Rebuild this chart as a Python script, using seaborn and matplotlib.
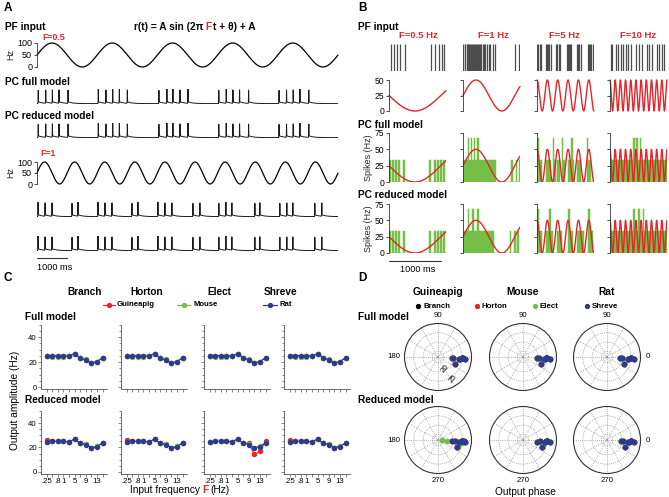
import numpy as np
import pandas as pd
import matplotlib
matplotlib.use("Agg")
import matplotlib.pyplot as plt
import seaborn as sns
from matplotlib.lines import Line2D
from matplotlib.ticker import MultipleLocator

# -------------------------
# DATA
# -------------------------
# A: PF input r(t) = A sin(2 pi F t + theta) + A over 10 s
a_freqs = [0.5, 1.0]
a_rate_amp = 50
a_duration = 10000

# PC spike times (ms)
a_full_f05 = [40, 290, 510, 730, 1030, 2035, 2290, 2515, 2735, 3000, 4050, 4315, 4515, 4750, 5015,
              6040, 6285, 6510, 6730, 7030, 8040, 8290, 8510, 8735, 9030]
a_red_f05 = [40, 290, 510, 730, 1030, 2035, 2290, 2515, 2735, 3000, 4050, 4315, 4515, 4750, 5015,
             6040, 6285, 6510, 6730, 7030, 8040, 8290, 8510, 8735, 9030]
a_full_f1 = [33, 266, 498, 1162, 1361, 2025, 2258, 2490, 3154, 3353, 4017, 4250, 4482, 5180, 5412,
             6042, 6275, 6474, 7238, 7404, 8068, 8300, 8500, 9230, 9462]
a_red_f1 = [33, 266, 498, 1162, 1361, 2025, 2258, 2490, 3154, 3353, 4017, 4250, 4482, 5180, 5412,
            6042, 6275, 6474, 7238, 7404, 8068, 8300, 8500, 9230, 9462]

# B: four input frequencies, 1.1 s windows
b_freqs = [0.5, 1, 5, 10]
b_theta = [180, 0, 90, 90]
b_rate_amp = 25
b_duration = 1100
b_titles = ["F=0.5 Hz", "F=1 Hz", "F=5 Hz", "F=10 Hz"]

pf_f05 = [33, 102, 160, 218, 309, 805, 888, 959, 1017, 1067]
pf_f1 = [8, 30, 48, 70, 88, 105, 122, 140, 160, 178, 195, 212, 232, 250, 268, 290, 310, 332, 355,
         380, 405, 430, 460, 495, 530, 570, 620, 1000, 1080]
pf_f5 = [5, 25, 50, 75, 170, 195, 215, 240, 270, 375, 395, 420, 445, 570, 590, 615, 640, 665,
         775, 795, 820, 845, 975, 995, 1020, 1045, 1080]
pf_f10 = [10, 45, 110, 150, 205, 250, 310, 350, 410, 505, 550, 610, 705, 750, 810, 905, 950,
          1010, 1050]

pc_full_f05 = [15, 75, 135, 195, 285, 785, 875, 935, 995, 1055]
pc_full_f1 = [12, 44, 75, 95, 112, 135, 155, 172, 190, 215, 232, 255, 275, 292, 318, 345, 372,
              400, 435, 462, 495, 525, 555, 585, 615, 935, 1020, 1085]
pc_full_f5 = [5, 20, 45, 80, 185, 215, 250, 305, 318, 345, 395, 425, 485, 498, 520, 605, 635,
              665, 678, 700, 800, 835, 965, 978, 1005, 1040]
pc_full_f10 = [12, 42, 72, 104, 135, 165, 196, 226, 255, 285, 316, 345, 376, 405, 436, 466, 474,
               495, 525, 532, 555, 585, 592, 615, 646, 676, 705, 736, 766, 796, 825, 856, 886,
               915, 946, 976, 1005, 1036, 1066, 1095]

pc_red_f05 = [15, 75, 135, 195, 285, 785, 875, 935, 995, 1055]
pc_red_f1 = [12, 44, 75, 95, 112, 135, 162, 190, 202, 225, 255, 275, 292, 318, 345, 372, 400,
             435, 462, 495, 525, 555, 585, 905, 1000, 1075]
pc_red_f5 = [8, 22, 50, 85, 190, 222, 245, 258, 290, 395, 430, 455, 605, 618, 640, 670, 800,
             830, 845, 870, 990, 1002, 1030, 1060]
pc_red_f10 = [12, 42, 72, 104, 135, 165, 196, 226, 255, 285, 316, 345, 376, 405, 436, 455, 462,
              495, 525, 555, 562, 585, 615, 646, 652, 676, 705, 736, 766, 796, 825, 856, 886,
              915, 946, 976, 1005, 1036, 1066, 1095]

# C / D: output amplitude (Hz) and phase (deg) per input frequency
input_freqs = [0.25, 0.5, 0.8, 1, 3, 5, 7, 9, 11, 13, 15]
freq_ticklabels = [".25", "", ".8", "1", "", "5", "", "9", "", "13", ""]
methods = ["Branch", "Horton", "Elect", "Shreve"]
species = ["Guineapig", "Mouse", "Rat"]

amp_guinea_full = [25.2, 25.0, 25.0, 25.0, 24.9, 26.7, 23.4, 21.8, 19.3, 20.2, 23.6]
amp_mouse_full = [24.8, 24.4, 24.3, 24.3, 24.8, 26.6, 23.6, 22.6, 19.4, 20.4, 23.4]
amp_rat_full = [24.8, 25.0, 25.0, 25.0, 24.8, 26.8, 23.5, 21.7, 19.2, 20.3, 23.5]
amp_guinea_red = [26.0, 25.0, 25.0, 25.0, 24.8, 26.8, 23.5, 22.6, 19.6, 20.9, 23.9]
amp_mouse_red = [24.5, 25.0, 25.0, 25.0, 24.8, 26.6, 23.6, 22.9, 19.8, 20.9, 23.7]
amp_rat_red = [24.8, 25.0, 25.0, 25.0, 24.8, 26.8, 23.5, 22.4, 19.7, 20.8, 23.8]
amp_guinea_red_elect = [24.6, 25.0, 25.0, 25.0, 24.9, 26.6, 23.8, 23.5, 14.3, 16.8, 25.0]

phase_guinea_full = [-3, -3, -2, -2, -3, -4, -5, -22, -6, -4, -5]
phase_mouse_full = [-3, -3, -3, -2, -3, -4, -5, -21, -6, -4, -5]
phase_rat_full = [-3, -3, -2, -2, -3, -4, -5, -22, -6, -4, -5]
phase_guinea_red = [-3, -2, -2, -2, -3, -4, -5, -20, -6, -4, -6]
phase_mouse_red = [-3, -3, -2, -2, -3, -4, -5, -21, -6, -4, -5]
phase_rat_red = [-3, -3, -2, -2, -3, -4, -5, -21, -6, -4, -5]

# -------------------------
# STYLE / LAYOUT HELPERS
# -------------------------
RED = "#e3262b"
GREEN = "#74bf45"
BLUE = "#2c3b8e"
DARK = "#333333"

sns.set_theme(style="ticks")
plt.rcParams["font.family"] = ["Liberation Sans", "DejaVu Sans"]

W, H = 669, 497
fig = plt.figure(figsize=(W / 100, H / 100), dpi=100)


def box(x0, y0, x1, y1):
    return [x0 / W, 1 - y1 / H, (x1 - x0) / W, (y1 - y0) / H]


def label(x, y, s, size=7.3, weight="bold", color="black", ha="left", **kw):
    fig.text(x / W, 1 - y / H, s, fontsize=size, fontweight=weight, color=color,
             ha=ha, va="center", **kw)


def pf_rate(t, f, amp, theta):
    return amp * np.sin(2 * np.pi * f * t / 1000 + np.deg2rad(theta)) + amp


def left_axis(ax, ticks, show_labels, size=6.2):
    for side in ["top", "right", "bottom"]:
        ax.spines[side].set_visible(False)
    ax.spines["left"].set_linewidth(0.6)
    ax.spines["left"].set_color(DARK)
    ax.set_xticks([])
    ax.set_yticks(ticks)
    if not show_labels:
        ax.set_yticklabels([])
    ax.tick_params(axis="y", labelsize=size, length=2.5, width=0.6, pad=1, colors=DARK,
                   labelcolor="black")
    ax.set_xlabel("")
    ax.set_ylabel("")
    ax.patch.set_alpha(0)


# -------------------------
# PANEL A
# -------------------------
t_a = np.arange(0, a_duration + 1, 2.0)


def draw_trace(ax, spikes):
    v = np.zeros_like(t_a)
    tail = np.zeros_like(t_a)
    for s in spikes:
        v += np.exp(-((t_a - s) / 5.0) ** 2)
        after = t_a > s
        tail[after] = np.maximum(tail[after], 0.14 * np.exp(-(t_a[after] - s) / 150.0))
    sns.lineplot(x=t_a, y=v + tail, ax=ax, color="#1a1a1a", lw=0.7, estimator=None)
    ax.set_xlim(0, a_duration)
    ax.set_ylim(-0.03, 1.1)
    ax.axis("off")


label(4, 8, "A", size=8.5)
label(5, 27, "PF input")
label(203, 27, "r(t) = A sin (2\u03c0")
fig.texts[-1].set_ha("right")
label(208, 27, "F", color=RED, ha="center")
label(213, 27, "t + \u03b8) + A")

sine_rows = [(43, 67), (162, 184)]
trace_rows = [[(89, 104), (123, 138)], [(202, 217), (236, 251)]]
trace_data = [[a_full_f05, a_red_f05], [a_full_f1, a_red_f1]]
for i, f in enumerate(a_freqs):
    y0, y1 = sine_rows[i]
    ax = fig.add_axes(box(37, y0, 338, y1))
    sns.lineplot(x=t_a, y=pf_rate(t_a, f, a_rate_amp, 0), ax=ax, color="black", lw=0.9,
                 estimator=None)
    for ln in ax.lines:
        ln.set_clip_on(False)
    ax.set_xlim(0, a_duration)
    ax.set_ylim(0, 100)
    left_axis(ax, [0, 50, 100], True, size=6.5)
    ax.set_ylabel("Hz", fontsize=6.5, labelpad=1)
    for (ty0, ty1), spikes in zip(trace_rows[i], trace_data[i]):
        tax = fig.add_axes(box(37, ty0, 338, ty1))
        draw_trace(tax, spikes)

label(42, 38, "F=0.5", size=6.3, color=RED)
label(40, 154, "F=1", size=6.3, color=RED)
label(5, 82, "PC full model")
label(5, 116, "PC reduced model")

sax = fig.add_axes(box(37, 256, 338, 260))
sns.lineplot(x=[0, 1000], y=[0, 0], ax=sax, color=DARK, lw=0.8)
sax.set_xlim(0, a_duration)
sax.axis("off")
label(37, 268, "1000 ms", size=6.6, weight="normal")

# -------------------------
# PANEL B
# -------------------------
t_b = np.arange(0, b_duration + 1, 1.0)
b_cols = [389, 463, 537, 610]
b_pf = [pf_f05, pf_f1, pf_f5, pf_f10]
b_full = [pc_full_f05, pc_full_f1, pc_full_f5, pc_full_f10]
b_red = [pc_red_f05, pc_red_f1, pc_red_f5, pc_red_f10]

label(358, 8, "B", size=8.5)
label(358, 27, "PF input")
label(358, 125, "PC full model")
label(358, 195, "PC reduced model")
b_title_x = [418, 493, 564, 638]

for j, f in enumerate(b_freqs):
    x0 = b_cols[j]
    x1 = x0 + 57
    label(b_title_x[j], 36, b_titles[j], size=6.8, color=RED, ha="center")

    rax = fig.add_axes(box(x0, 44, x1, 71))
    rax.vlines(b_pf[j], 0, 1, color="#4d4d4d", lw=0.9)
    rax.set_xlim(0, b_duration)
    rax.set_ylim(0, 1)
    rax.axis("off")

    iax = fig.add_axes(box(x0, 80, x1, 111))
    sns.lineplot(x=t_b, y=pf_rate(t_b, f, b_rate_amp, b_theta[j]), ax=iax, color=RED, lw=1.0,
                 estimator=None)
    for ln in iax.lines:
        ln.set_clip_on(False)
    iax.set_xlim(0, b_duration)
    iax.set_ylim(0, 50)
    left_axis(iax, [0, 25, 50], j == 0)

    for (y0, y1), spikes in zip([(133, 182), (204, 253)], [b_full[j], b_red[j]]):
        hax = fig.add_axes(box(x0, y0, x1, y1))
        spk = pd.DataFrame({"t": spikes, "rate": 1000 / 30})
        sns.histplot(data=spk, x="t", weights="rate", binwidth=30, binrange=(0, 1110), ax=hax,
                     color=GREEN, alpha=1, linewidth=0.35, edgecolor=GREEN)
        sns.lineplot(x=t_b, y=pf_rate(t_b, f, b_rate_amp, b_theta[j]), ax=hax, color=RED,
                     lw=1.0, estimator=None)
        hax.set_xlim(0, b_duration)
        hax.set_ylim(0, 75)
        left_axis(hax, [0, 25, 50, 75], j == 0)
        if j == 0:
            hax.set_ylabel("Spikes (Hz)", fontsize=6.5, labelpad=1)

bax = fig.add_axes(box(389, 259, 446, 263))
sns.lineplot(x=[0, 1000], y=[0, 0], ax=bax, color=DARK, lw=0.8)
bax.set_xlim(0, b_duration)
bax.axis("off")
label(418, 269, "1000 ms", size=6.6, weight="normal", ha="center")

# -------------------------
# PANEL C
# -------------------------
pos = np.arange(len(input_freqs))
label(4, 278, "C", size=8.5)
for x, name in zip([85, 147, 219, 281], methods):
    label(x, 292, name, size=7.2, ha="center")

for (lx0, lx1, tx), c, name in zip([(103, 115, 117), (177, 190, 193), (263, 277, 280)],
                                   [RED, GREEN, BLUE], species):
    fig.add_artist(Line2D([lx0 / W, (lx0 + lx1) / 2 / W, lx1 / W], [1 - 305 / H] * 3, color=c,
                          lw=0.9, marker="o", markersize=2.8, markevery=[1]))
    label(tx, 305, name, size=5.6)

label(25, 317, "Full model")
label(25, 400, "Reduced model")

c_cols = [41, 121, 204, 284]
c_rows = [(324.5, 389), (410.8, 473.8)]
full_amps = [amp_guinea_full, amp_mouse_full, amp_rat_full]
red_amps = [amp_guinea_red, amp_mouse_red, amp_rat_red]
for r, (y0, y1) in enumerate(c_rows):
    for m, x0 in enumerate(c_cols):
        ax = fig.add_axes(box(x0, y0, x0 + 66, y1))
        amps = full_amps if r == 0 else list(red_amps)
        if r == 1 and methods[m] == "Elect":
            amps = [amp_guinea_red_elect] + amps[1:]
        for vals, c in zip(amps, [RED, GREEN, BLUE]):
            sns.lineplot(x=pos, y=vals, ax=ax, color=c, lw=0.8, marker="o", markersize=3.9,
                         markeredgewidth=0, estimator=None)
        ax.set_xlim(-1, 10.8)
        ax.set_ylim(-1.5, 50)
        sns.despine(ax=ax)
        for side in ["left", "bottom"]:
            ax.spines[side].set_linewidth(0.6)
            ax.spines[side].set_color("#555555")
        ax.set_yticks([0, 20, 40])
        ax.yaxis.set_minor_locator(MultipleLocator(5))
        ax.set_xticks(pos)
        ax.set_xticklabels(freq_ticklabels if r == 1 else [""] * len(pos))
        if m != 0:
            ax.set_yticklabels([])
        ax.tick_params(which="both", labelsize=5.6, length=2, width=0.5, pad=1, colors="#555555",
                       labelcolor="black")
        ax.tick_params(which="minor", length=1.5)
        ax.set_xlabel("")
        ax.set_ylabel("")
        ax.patch.set_alpha(0)

label(15, 400, "Output amplitude (Hz)", size=7.3, weight="normal", rotation=90, ha="center")
label(200, 490, "Input frequency", size=7.3, weight="normal")
fig.texts[-1].set_ha("right")
label(205, 490, "F", size=7.5, color=RED, ha="center")
label(210, 490, "(Hz)", size=7.3, weight="normal")

# -------------------------
# PANEL D
# -------------------------
label(358, 278, "D", size=8.5)
d_cx = [438, 523, 607]
for cx, name in zip(d_cx, species):
    label(cx, 292, name, size=7.4, ha="center")

for (dx, tx), c, name in zip([(418, 423), (477, 482), (535, 540), (587, 592)],
                             ["black", RED, GREEN, BLUE], methods):
    fig.add_artist(Line2D([dx / W], [1 - 306 / H], color=c, lw=0, marker="o", markersize=2.8))
    label(tx, 306, name, size=5.7)

label(358, 317, "Full model")
label(358, 400, "Reduced model")

d_rows = [357, 440]
d_amps = [[amp_guinea_full, amp_mouse_full, amp_rat_full],
          [amp_guinea_red, amp_mouse_red, amp_rat_red]]
d_phases = [[phase_guinea_full, phase_mouse_full, phase_rat_full],
            [phase_guinea_red, phase_mouse_red, phase_rat_red]]
R = 33.5
for r, cy in enumerate(d_rows):
    for s, cx in enumerate(d_cx):
        ax = fig.add_axes(box(cx - R, cy - R, cx + R, cy + R), projection="polar")
        for m, c in enumerate(["black", RED, GREEN, BLUE]):
            amps = d_amps[r][s]
            if r == 1 and s == 0 and methods[m] == "Elect":
                amps = amp_guinea_red_elect
            sns.scatterplot(x=np.deg2rad(d_phases[r][s]), y=amps, ax=ax, color=c, s=17,
                            linewidth=0, legend=False)
        ax.set_ylim(12, 30)
        ax.set_rgrids([15, 20, 25], labels=["", "", ""])
        ax.set_thetagrids(np.arange(0, 360, 30), labels=[""] * 12)
        ax.grid(True, color="#8c8c8c", lw=0.55, ls=(0, (1, 1.5)))
        ax.spines["polar"].set_linewidth(0.8)
        ax.spines["polar"].set_color(DARK)
        ax.set_xlabel("")
        ax.set_ylabel("")
        if r == 0:
            label(cx, cy - R - 8, "90", size=5.6, weight="normal", ha="center")
        else:
            label(cx, cy + R + 7.5, "270", size=5.6, weight="normal", ha="center")
        if s == 0:
            label(cx - R - 4, cy, "180", size=5.6, weight="normal", ha="right")
        if s == 2:
            label(cx + R + 7, cy, "0", size=5.6, weight="normal", ha="center")

label(445, 369, "20", size=5.6, weight="normal", ha="center", rotation=50)
label(453, 379, "25", size=5.6, weight="normal", ha="center", rotation=50)
label(525, 492, "Output phase", size=7.3, weight="normal", ha="center")

fig.savefig("out.png", dpi=100)
